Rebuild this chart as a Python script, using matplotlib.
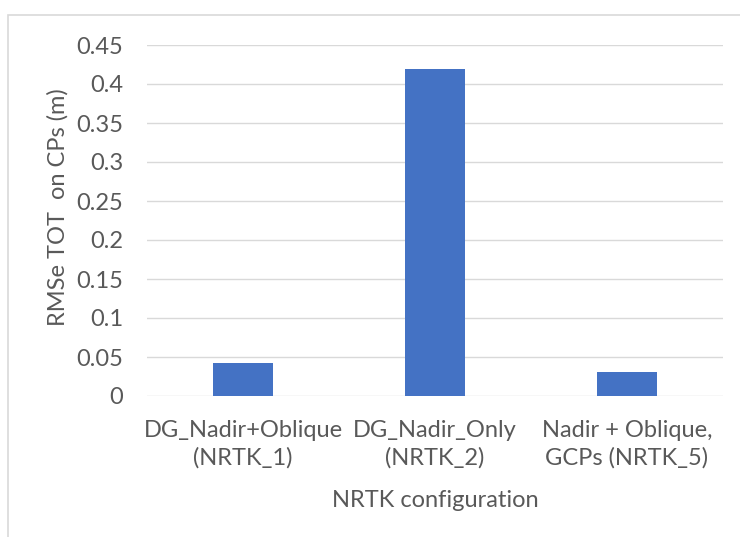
import matplotlib.pyplot as plt
from matplotlib.patches import Rectangle

# data
categories = ["DG_Nadir+Oblique\n(NRTK_1)", "DG_Nadir_Only\n(NRTK_2)", "Nadir + Oblique,\nGCPs (NRTK_5)"]
rmse_tot = [0.042, 0.419, 0.031]
y_ticks = [0, 0.05, 0.1, 0.15, 0.2, 0.25, 0.3, 0.35, 0.4, 0.45]
y_tick_labels = ["0", "0.05", "0.1", "0.15", "0.2", "0.25", "0.3", "0.35", "0.4", "0.45"]

plt.rcParams['font.family'] = ['Lato', 'DejaVu Sans']
text_col = "#595959"
grid_col = "#d9d9d9"

fig = plt.figure(figsize=(7.4, 5.37), dpi=100)

# chart border (runs off the right and bottom edges in the reference)
fig.patches.append(Rectangle((8 / 740, -0.1), 1.2, 1 - 15 / 537 + 0.1,
                             transform=fig.transFigure, fill=False,
                             edgecolor=grid_col, linewidth=1.2))

ax = fig.add_axes([147 / 740, 1 - 396 / 537, 576 / 740, 351 / 537])

x = range(len(categories))
ax.bar(x, rmse_tot, width=0.315, color="#4472C4", zorder=3)

ax.set_xlim(-0.5, 2.5)
ax.set_ylim(0, 0.45)
ax.set_yticks(y_ticks)
ax.set_yticklabels(y_tick_labels)
ax.set_xticks(list(x))
ax.set_xticklabels(categories, linespacing=1.38)

ax.grid(axis="y", color=grid_col, linewidth=1.0, zorder=0)
for s in ax.spines.values():
    s.set_visible(False)
ax.tick_params(axis="both", length=0, labelsize=17, colors=text_col)
ax.tick_params(axis="y", pad=17)
ax.tick_params(axis="x", pad=17)

ax.set_xlabel("NRTK configuration", fontsize=17, color=text_col, labelpad=15)
ax.set_ylabel("RMSe TOT  on CPs (m)", fontsize=17, color=text_col)
ax.yaxis.set_label_coords(-0.137, 0.538)

fig.savefig("out.png", dpi=100)
